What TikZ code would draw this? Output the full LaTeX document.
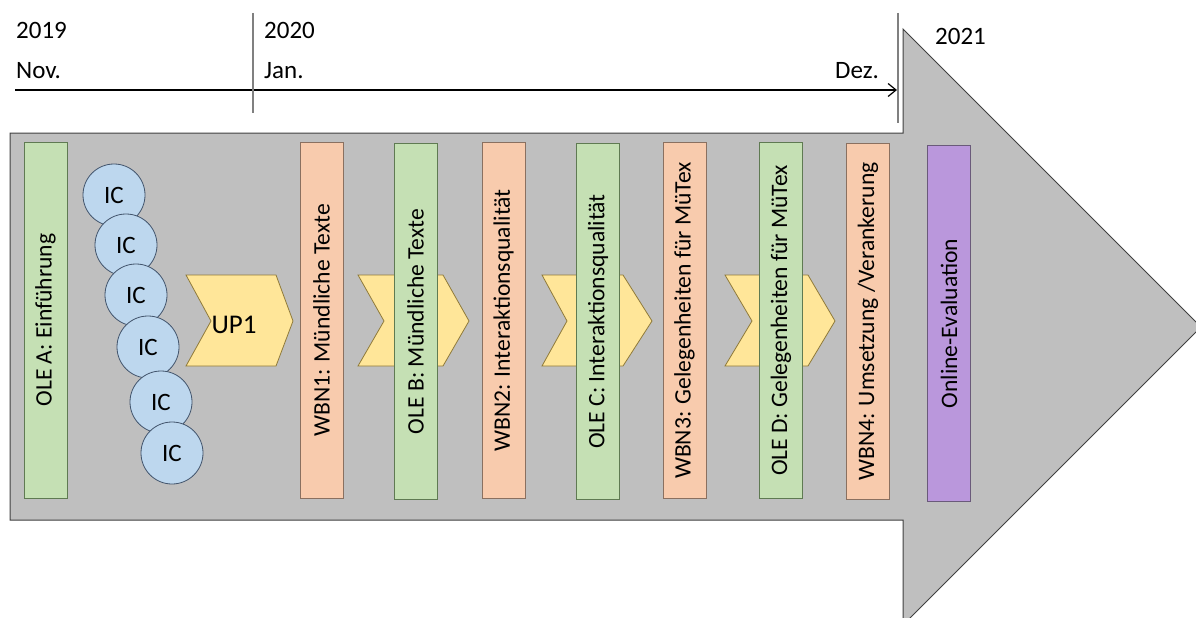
\documentclass[tikz,border=0pt]{standalone}
\usepackage{fontspec}
\setmainfont{Carlito}
\usetikzlibrary{arrows.meta}
\definecolor{biggray}{HTML}{BFBFBF}
\definecolor{bigedge}{HTML}{404040}
\definecolor{olegreen}{HTML}{C5E0B4}
\definecolor{oleedge}{HTML}{5F7A52}
\definecolor{wbnorange}{HTML}{F8CBAD}
\definecolor{wbnedge}{HTML}{8A7060}
\definecolor{evalpurple}{HTML}{BA97DC}
\definecolor{evaledge}{HTML}{6A5A7A}
\definecolor{chevyellow}{HTML}{FFE699}
\definecolor{chevedge}{HTML}{8F7A3A}
\definecolor{icblue}{HTML}{BDD7EE}
\definecolor{icedge}{HTML}{41536B}
\definecolor{tickgray}{HTML}{808080}
\tikzset{
  bar/.style={draw, line width=0.9pt, rotate=90, minimum width=356pt, minimum height=43pt,
    inner sep=0pt, font=\fontsize{23.6}{26}\selectfont},
  olebar/.style={bar, fill=olegreen, draw=oleedge},
  wbnbar/.style={bar, fill=wbnorange, draw=wbnedge},
  evalbar/.style={bar, fill=evalpurple, draw=evaledge},
  icnode/.style={circle, draw=icedge, fill=icblue, line width=0.8pt, minimum size=62pt,
    inner sep=0pt, font=\fontsize{25}{28}\selectfont},
  chev/.style={draw=chevedge, fill=chevyellow, line width=0.8pt},
  datetext/.style={anchor=west, inner sep=0pt, font=\fontsize{25}{28}\selectfont},
  tick/.style={draw=tickgray, line width=1.2pt}
}
\begin{document}
\begin{tikzpicture}[x=1pt, y=-1pt]
\useasboundingbox (0,0) rectangle (1196,618);
% big arrow
\draw[fill=biggray, draw=bigedge, line width=1pt]
  (10,133) -- (903,133) -- (903,29) -- (1201,327) -- (903,625) -- (903,520) -- (10,520) -- cycle;
% timeline
\coordinate (tlstart) at (15,90);
\coordinate (tlend) at (897,90);
\draw[line width=1.2pt, -{Straight Barb[length=8pt, width=13pt]}] (tlstart) -- (tlend);
\coordinate (t1a) at (253,13); \coordinate (t1b) at (253,113);
\coordinate (t2a) at (898,13); \coordinate (t2b) at (898,123);
\draw[tick] (t1a) -- (t1b);
\draw[tick] (t2a) -- (t2b);
\node[datetext] (y2019) at (16,30) {2019};
\node[datetext] (nov) at (16,71) {Nov.};
\node[datetext] (y2020) at (264,30) {2020};
\node[datetext] (jan) at (264,71) {Jan.};
\node[datetext] (dez) at (835,71) {Dez.};
\node[datetext] (y2021) at (935,36) {2021};
% bars and chevrons
\node[olebar] (olea) at (45.5,320) {OLE A: Einführung};
\node[icnode] (ic1) at (114,195) {IC};
\node[icnode] (ic2) at (126,245) {IC};
\node[icnode] (ic3) at (136,295) {IC};
\node[icnode] (ic4) at (148,347) {IC};
\node[icnode] (ic5) at (161,402) {IC};
\node[icnode] (ic6) at (172,453) {IC};
\draw[chev] (186,275) -- (276,275) -- (293,321) -- (276,366) -- (186,366) -- (211,321) -- cycle;
\node[font=\fontsize{27}{30}\selectfont] (up1) at (234,325) {UP1};
\draw[chev] (358,275) -- (443,275) -- (469,321) -- (443,366) -- (358,366) -- (384,321) -- cycle;
\draw[chev] (542,275) -- (623,275) -- (652,321) -- (623,366) -- (542,366) -- (567,321) -- cycle;
\draw[chev] (725,275) -- (808,275) -- (835,321) -- (808,366) -- (725,366) -- (752,321) -- cycle;
\node[wbnbar] (wbn1) at (321.5,320.5) {WBN1: Mündliche Texte};
\node[olebar] (oleb) at (415.5,321.5) {OLE B: Mündliche Texte};
\node[wbnbar] (wbn2) at (503.5,320.5) {WBN2: Interaktionsqualität};
\node[olebar] (olec) at (598,321.5) {OLE C: Interaktionsqualität};
\node[wbnbar] (wbn3) at (684.5,320.5) {WBN3: Gelegenheiten für MüTex};
\node[olebar] (oled) at (781,320.5) {OLE D: Gelegenheiten für MüTex};
\node[wbnbar] (wbn4) at (868,321.5) {WBN4: Umsetzung /Verankerung};
\node[evalbar] (evalb) at (949,323.5) {Online-Evaluation};
\end{tikzpicture}
\end{document}
